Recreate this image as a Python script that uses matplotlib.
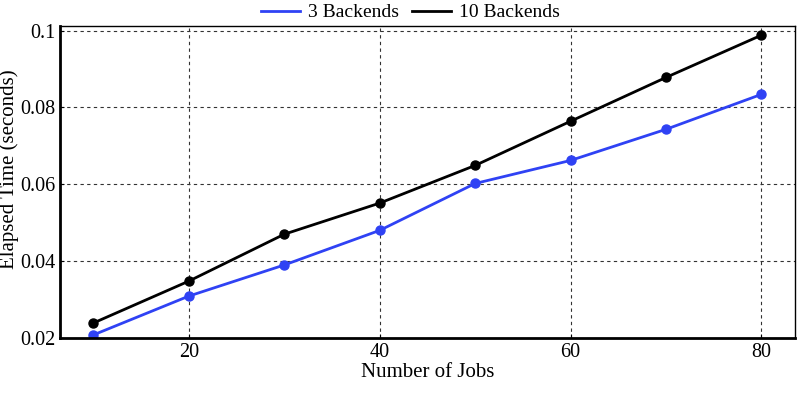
import matplotlib
matplotlib.use("Agg")
import matplotlib.pyplot as plt

plt.rcParams['font.family'] = ['Liberation Serif', 'DejaVu Serif']

# Data
jobs = [10, 20, 30, 40, 50, 60, 70, 80]
b3 = [0.0208, 0.0309, 0.039, 0.048, 0.0602, 0.0662, 0.0743, 0.0834]
b10 = [0.0239, 0.0348, 0.047, 0.0551, 0.0649, 0.0764, 0.0878, 0.0988]

fig = plt.figure(figsize=(7.97, 3.93), dpi=100)
ax = fig.add_axes([0.0753, 0.14, 0.922, 0.794])

l1, = ax.plot(jobs, b3, color='#2f42f4', lw=2, marker='o', ms=6.5, label='3 Backends')
l2, = ax.plot(jobs, b10, color='black', lw=2, marker='o', ms=6.5, label='10 Backends')

ax.set_xlim(6.5, 83.5)
ax.set_ylim(0.02, 0.1012)
ax.set_xticks([20, 40, 60, 80])
ax.set_yticks([0.02, 0.04, 0.06, 0.08, 0.1])
ax.set_yticklabels(['0.02', '0.04', '0.06', '0.08', '0.1'])
ax.grid(True, ls=(0, (3, 3)), color='#333333', lw=0.8)
ax.tick_params(labelsize=14.5, length=3, direction='in')

ax.spines['left'].set_linewidth(2)
ax.spines['bottom'].set_linewidth(2)
ax.spines['top'].set_linewidth(1)
ax.spines['right'].set_linewidth(1)

ax.set_xlabel('Number of Jobs', fontsize=15, labelpad=1)
ax.set_ylabel('Elapsed Time (seconds)', fontsize=15, labelpad=1)
ax.yaxis.label.set_y(0.54)

fig.legend(handles=[l1, l2], labels=['3 Backends', '10 Backends'],
           loc='upper center', bbox_to_anchor=(0.515, 1.035), ncol=2, frameon=False,
           fontsize=14, handlelength=2.0, columnspacing=0.7, handletextpad=0.4)
for h in fig.legends[0].legend_handles:
    h.set_marker('')

fig.savefig('out.png', dpi=100)
